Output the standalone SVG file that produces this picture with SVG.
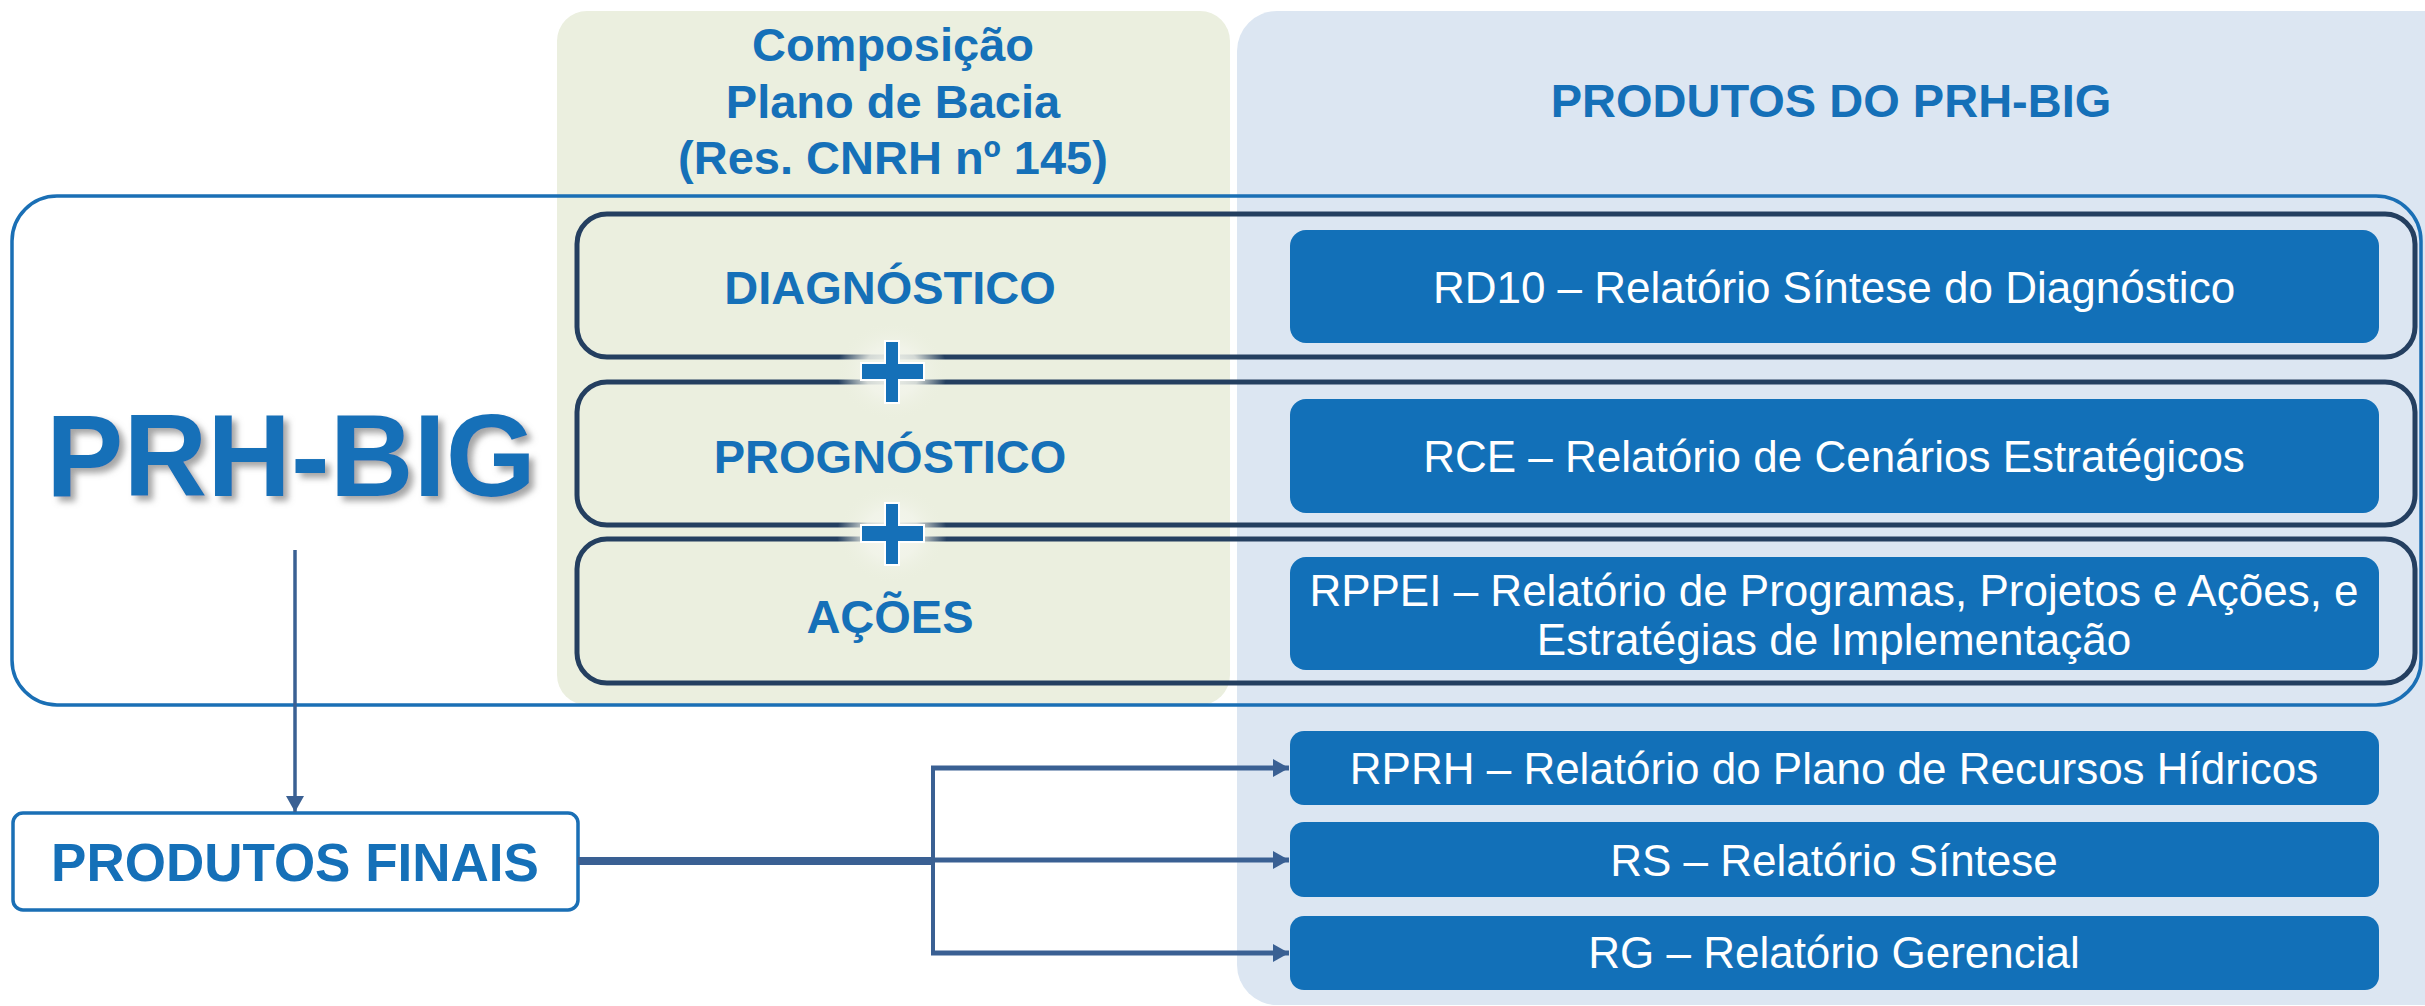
<svg xmlns="http://www.w3.org/2000/svg" width="2425" height="1006" viewBox="0 0 2425 1006">
<defs>
<style>
.hd{font-family:"Liberation Sans",Arial,sans-serif;font-weight:bold;fill:#1570B8;text-anchor:middle}
.wt{font-family:"Liberation Sans",Arial,sans-serif;font-size:44px;fill:#ffffff;text-anchor:middle}
.outline{fill:none;stroke:#243F60;stroke-width:5}
.prod{fill:#1270B8}
.conn{fill:none;stroke:#3A6093}
.plus{fill:#1570B8;stroke:#ffffff;stroke-width:2}
</style>
<marker id="ah" markerWidth="16" markerHeight="18" refX="16" refY="9" orient="auto" markerUnits="userSpaceOnUse">
<path d="M0,0 L16,9 L0,18 Z" fill="#3A6093"/>
</marker>
<radialGradient id="glow">
<stop offset="0" stop-color="#F4F6EE" stop-opacity="1"/>
<stop offset="0.5" stop-color="#F2F4EA" stop-opacity="0.85"/>
<stop offset="1" stop-color="#EBEFDF" stop-opacity="0"/>
</radialGradient>
<filter id="shadow" x="-10%" y="-20%" width="130%" height="150%">
<feGaussianBlur in="SourceAlpha" stdDeviation="3"/>
<feOffset dx="5" dy="5" result="b"/>
<feFlood flood-color="#7f7f7f" flood-opacity="0.7"/>
<feComposite in2="b" operator="in"/>
<feMerge><feMergeNode/><feMergeNode in="SourceGraphic"/></feMerge>
</filter>
</defs>
<rect width="2425" height="1006" fill="#ffffff"/>

<g id="panel-composicao">
<rect x="557" y="11" width="673" height="694" rx="30" fill="#EBEFDF"/>
<text class="hd" font-size="47" x="893" y="61">Composição</text>
<text class="hd" font-size="47" x="893" y="118">Plano de Bacia</text>
<text class="hd" font-size="47" x="893" y="174">(Res. CNRH nº 145)</text>
</g>

<g id="panel-produtos">
<rect x="1237" y="11" width="1230" height="994" rx="40" fill="#DCE6F2"/>
<text class="hd" font-size="47" x="1831" y="117">PRODUTOS DO PRH-BIG</text>
</g>

<g id="prh-big">
<rect x="12" y="196" width="2409" height="509" rx="45" fill="none" stroke="#1A6FB5" stroke-width="3.5"/>
<text class="hd" font-size="116" x="291" y="496" filter="url(#shadow)">PRH-BIG</text>
</g>

<g id="diagnostico">
<rect class="outline" x="577" y="214" width="1838" height="143" rx="30"/>
<text class="hd" font-size="47" x="890" y="304">DIAGNÓSTICO</text>
</g>
<g id="prognostico">
<rect class="outline" x="577" y="382" width="1838" height="143" rx="30"/>
<text class="hd" font-size="47" x="890" y="473">PROGNÓSTICO</text>
</g>
<g id="acoes">
<rect class="outline" x="577" y="539" width="1838" height="144" rx="30"/>
<text class="hd" font-size="47" x="890" y="633">AÇÕES</text>
</g>

<g id="rd10">
<rect class="prod" x="1290" y="230" width="1089" height="113" rx="16"/>
<text class="wt" x="1834" y="303">RD10 – Relatório Síntese do Diagnóstico</text>
</g>
<g id="rce">
<rect class="prod" x="1290" y="399" width="1089" height="114" rx="16"/>
<text class="wt" x="1834" y="472">RCE – Relatório de Cenários Estratégicos</text>
</g>
<g id="rppei">
<rect class="prod" x="1290" y="557" width="1089" height="113" rx="16"/>
<text class="wt" x="1834" y="606">RPPEI – Relatório de Programas, Projetos e Ações, e</text>
<text class="wt" x="1834" y="655">Estratégias de Implementação</text>
</g>
<g id="rprh">
<rect class="prod" x="1290" y="731" width="1089" height="74" rx="14"/>
<text class="wt" x="1834" y="784">RPRH – Relatório do Plano de Recursos Hídricos</text>
</g>
<g id="rs">
<rect class="prod" x="1290" y="822" width="1089" height="75" rx="14"/>
<text class="wt" x="1834" y="876">RS – Relatório Síntese</text>
</g>
<g id="rg">
<rect class="prod" x="1290" y="916" width="1089" height="74" rx="14"/>
<text class="wt" x="1834" y="968">RG – Relatório Gerencial</text>
</g>

<g id="produtos-finais">
<rect x="13" y="813" width="565" height="97" rx="10" fill="#ffffff" stroke="#1A6FB5" stroke-width="3.5"/>
<text class="hd" font-size="53" x="295" y="881">PRODUTOS FINAIS</text>
</g>

<g id="connectors">
<path class="conn" stroke-width="3.5" d="M295,550 V812" marker-end="url(#ah)"/>
<path class="conn" stroke-width="8" d="M578,861 H933"/>
<path class="conn" stroke-width="4" d="M933,767 V955"/>
<path class="conn" stroke-width="5" d="M931,768 H1289" marker-end="url(#ah)"/>
<path class="conn" stroke-width="5" d="M933,860 H1289" marker-end="url(#ah)"/>
<path class="conn" stroke-width="5" d="M931,953 H1289" marker-end="url(#ah)"/>
</g>

<g id="plus-1">
<ellipse cx="892" cy="371" rx="55" ry="50" fill="url(#glow)"/>
<path class="plus" d="M885,341 H899 V363 H924 V380 H899 V403 H885 V380 H861 V363 H885 Z"/>
</g>
<g id="plus-2">
<ellipse cx="892" cy="534" rx="55" ry="50" fill="url(#glow)"/>
<path class="plus" d="M885,503 H899 V525 H924 V542 H899 V565 H885 V542 H861 V525 H885 Z"/>
</g>
</svg>
